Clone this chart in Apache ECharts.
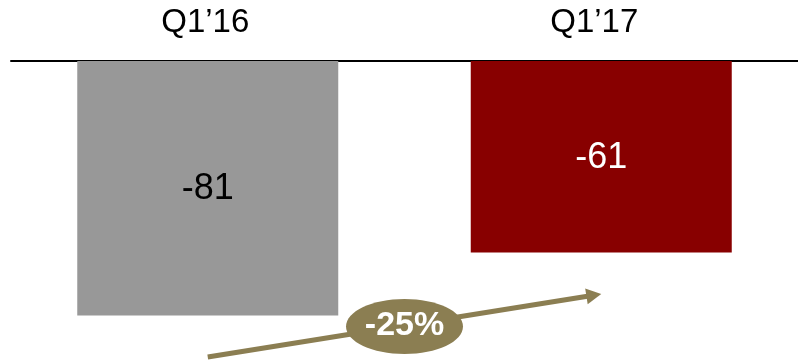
<!DOCTYPE html>
<html>
<head>
<meta charset="utf-8">
<script src="https://cdn.jsdelivr.net/npm/echarts@6/dist/echarts.min.js"></script>
<style>
  html, body { margin: 0; padding: 0; background: #ffffff; }
  #chart { width: 798px; height: 362px; }
</style>
</head>
<body>
<div id="chart"></div>
<script>
// Quarterly figures
const categories = ['Q1’16', 'Q1’17'];
const values = [-81, -61];
const changeText = '-25%';

const barColors = ['#989898', '#880000'];
const labelColors = ['#000000', '#ffffff'];
const accent = '#8b7e52';
const FONT = '"Liberation Sans", Arial, sans-serif';

const chart = echarts.init(document.getElementById('chart'), null, { renderer: 'canvas' });

chart.setOption({
  animation: false,
  grid: { left: 11, right: 0, top: 61, bottom: 1, containLabel: false },
  xAxis: {
    type: 'category',
    position: 'top',
    data: categories.map((c, i) => ({
      value: c,
      textStyle: { padding: i === 0 ? [0, 5, 0, 0] : [0, 14, 0, 0] }
    })),
    axisLine: { show: true, lineStyle: { color: '#000000', width: 2 } },
    axisTick: { show: false },
    splitLine: { show: false },
    axisLabel: { fontSize: 33, color: '#000000', fontFamily: FONT, margin: 22 }
  },
  yAxis: { type: 'value', min: -95.5, max: 0, show: false, splitLine: { show: false } },
  series: [{
    type: 'bar',
    barWidth: 261,
    data: values.map((v, i) => ({
      value: v,
      itemStyle: { color: barColors[i] },
      label: { color: labelColors[i] }
    })),
    label: { show: true, position: 'inside', fontSize: 36, fontFamily: FONT, offset: [0, 1] }
  }]
});

// Trend arrow from below the first bar to below the second, with the change badge
const from = chart.convertToPixel({ gridIndex: 0 }, [0, -94.2]);
const to = chart.convertToPixel({ gridIndex: 0 }, [1, -74.2]);
const dx = to[0] - from[0], dy = to[1] - from[1];
const len = Math.hypot(dx, dy);
const ux = dx / len, uy = dy / len;
const headLen = 15, headHalf = 8;
const base = [to[0] - ux * headLen, to[1] - uy * headLen];
const mid = [(from[0] + to[0]) / 2, (from[1] + to[1]) / 2];

chart.setOption({
  graphic: [
    {
      type: 'line',
      shape: { x1: from[0], y1: from[1], x2: base[0] + ux, y2: base[1] + uy },
      style: { stroke: accent, lineWidth: 5 },
      z: 10
    },
    {
      type: 'polygon',
      shape: {
        points: [
          to,
          [base[0] - uy * headHalf, base[1] + ux * headHalf],
          [base[0] + uy * headHalf, base[1] - ux * headHalf]
        ]
      },
      style: { fill: accent },
      z: 10
    },
    {
      type: 'ellipse',
      shape: { cx: mid[0], cy: mid[1] + 1, rx: 58.5, ry: 27.5 },
      style: { fill: accent },
      z: 11
    },
    {
      type: 'text',
      x: mid[0],
      y: mid[1],
      style: {
        text: changeText,
        align: 'center',
        verticalAlign: 'middle',
        fill: '#ffffff',
        fontSize: 34,
        fontWeight: 'bold',
        fontFamily: FONT
      },
      z: 12
    }
  ]
});
</script>
</body>
</html>
